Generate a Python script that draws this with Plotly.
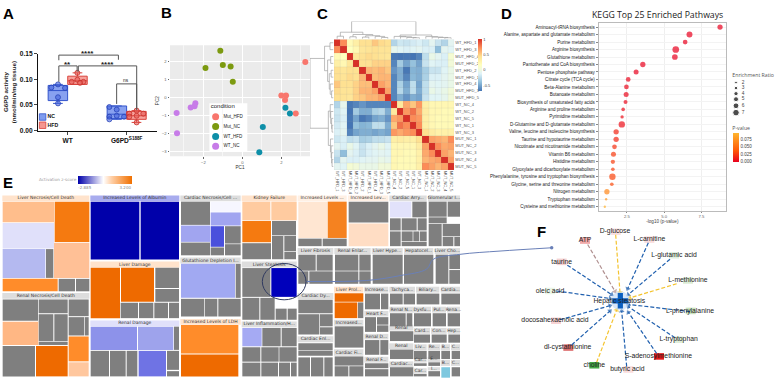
import plotly.graph_objects as go

W, H = 777, 382
def dx(a, b): return [a / W, b / W]
def dy(top, bot): return [1 - bot / H, 1 - top / H]

# ---------- A: G6PD activity
A_x_nc_wt = [0.836, 0.723, 0.955, 0.836, 0.836]
A_y_nc_wt = [0.090, 0.084, 0.083, 0.065, 0.053]
A_x_hfd_wt = [1.164, 1.068, 1.164, 1.266, 1.209]
A_y_hfd_wt = [0.1125, 0.095, 0.099, 0.095, 0.093]
A_x_nc_mut = [1.706, 1.831, 1.706, 1.831, 1.955, 1.706]
A_y_nc_mut = [0.046, 0.041, 0.027, 0.029, 0.027, 0.022]
A_x_hfd_mut = [2.169, 2.045, 2.282, 2.169, 2.169, 2.045]
A_y_hfd_mut = [0.039, 0.033, 0.033, 0.029, 0.016, 0.027]
A_box_pos = [0.834, 1.166, 1.834, 2.166]
A_q1 = [0.0585, 0.090, 0.0235, 0.022]
A_med = [0.078, 0.097, 0.032, 0.029]
A_q3 = [0.088, 0.106, 0.048, 0.0375]
A_low = [0.053, 0.090, 0.022, 0.016]
A_high = [0.090, 0.1125, 0.048, 0.039]
A_brackets = [
    ([0.85, 0.85, 1.86, 1.86], [0.137, 0.147, 0.147, 0.138]),
    ([0.85, 0.85, 1.16, 1.16], [0.095, 0.126, 0.126, 0.115]),
    ([1.18, 1.18, 2.17, 2.17], [0.115, 0.126, 0.126, 0.040]),
    ([1.83, 1.83, 2.17, 2.17], [0.052, 0.091, 0.091, 0.043]),
]
A_sig_x = [1.33, 1.0, 1.68, 1.99]
A_sig_y = [0.150, 0.129, 0.129, 0.097]
A_sig_t = ["****", "**", "****", "ns"]
A_sig_s = [8, 8, 8, 4.8]

# ---------- B: PCA
B_groups = ["Mut_HFD", "Mut_NC", "WT_HFD", "WT_NC"]
B_colors = ["#F8766D", "#7C9A10", "#0E8FA8", "#C77CE8"]
B_pc1 = [[3.23, 2.0, 2.24, 2.19, 2.74],
         [-1.13, -1.89, -1.0, -0.60, -0.49],
         [2.21, 2.44, 1.05, 0.87],
         [-3.37, -2.65, -2.45, -2.41, -3.35]]
B_pc2 = [[1.97, 0.11, 0.11, -0.13, -0.88],
         [2.58, 1.64, 1.80, 1.71, 0.88],
         [-0.56, -0.88, -1.62, -3.01],
         [-0.85, -0.54, -0.47, -0.31, -1.97]]
B_leg_y = [-1.06, -1.6, -2.15, -2.69]

# ---------- C: correlation heatmap
C_labels = ["WT_HFD_1", "WT_HFD_3", "MUT_HFD_4", "MUT_HFD_2", "WT_HFD_2", "MUT_HFD_1",
            "WT_HFD_4", "MUT_HFD_3", "MUT_HFD_5", "WT_NC_4", "WT_NC_2", "WT_NC_5",
            "WT_NC_1", "WT_NC_3", "MUT_NC_1", "MUT_NC_2", "MUT_NC_3", "MUT_NC_4", "MUT_NC_5"]
C_upper = [
    [1, .72, .2, .3, .42, .42, .52, .45, .42, -.3, -.2, -.22, -.18, -.15, -.2, -.1, -.22, -.3, -.1],
    [1, .15, .22, .38, .4, .42, .4, .4, -.08, -.12, -.15, -.12, -.1, -.15, -.15, -.42, -.1, -.12],
    [1, .38, .42, .45, .42, .4, .38, -.69, -.7, -.69, -.7, -.64, -.25, -.05, -.1, -.15, .05],
    [1, .42, .42, .48, .48, .48, -.64, -.35, -.52, -.4, -.52, -.22, -.12, -.15, -.15, .02],
    [1, .58, .55, .58, .52, -.58, -.48, -.69, -.46, -.48, -.34, -.22, -.22, -.12, -.05],
    [1, .55, .58, .58, -.64, -.48, -.64, -.44, -.48, -.32, -.15, -.15, -.1, -.05],
    [1, .65, .58, -.64, -.32, -.52, -.25, -.52, -.25, -.1, -.12, -.1, -.05],
    [1, .65, -.64, -.28, -.48, -.25, -.48, -.25, -.05, -.1, -.05, .02],
    [1, -.64, -.48, -.58, -.48, -.52, -.22, -.12, -.12, -.08, .02],
    [1, .35, .62, .52, .68, .3, .22, .22, .22, .22],
    [1, .68, .8, .62, .32, .22, .22, .2, .2],
    [1, .72, .68, .3, .22, .2, .2, .2],
    [1, .72, .3, .22, .2, .2, .2],
    [1, .42, .32, .28, .28, .28],
    [1, .65, .62, .58, .72],
    [1, .72, .62, .65],
    [1, .65, .58],
    [1, .65],
    [1],
]
C_tree = (1.0,
          (.38, (.15, 0, 1), (.25, (.12, 2, 3), (.18, (.1, 4, 5), (.14, 6, (.08, 7, 8))))),
          (.22, (.14, 9, (.12, 10, (.08, 11, (.06, 12, 13)))),
           (.13, 14, (.1, 15, (.08, 16, (.06, 17, 18))))))
C_scale = ["#4575B4", "#91BFDB", "#E0F3F8", "#FFFFBF", "#FEE090", "#FC8D59", "#D73027"]

# ---------- D: KEGG
D_path = ["Aminoacyl-tRNA biosynthesis", "Alanine, aspartate and glutamate metabolism", "Purine metabolism",
          "Arginine biosynthesis", "Glutathione metabolism", "Pantothenate and CoA biosynthesis",
          "Pentose phosphate pathway", "Citrate cycle (TCA cycle)", "Beta-Alanine metabolism",
          "Butanoate metabolism", "Biosynthesis of unsaturated fatty acids", "Arginine and proline metabolism",
          "Pyrimidine metabolism", "D-Glutamine and D-glutamate metabolism",
          "Valine, leucine and isoleucine biosynthesis", "Taurine and hypotaurine metabolism",
          "Nicotinate and nicotinamide metabolism", "Vitamin B6 metabolism", "Histidine metabolism",
          "Glyoxylate and dicarboxylate metabolism", "Phenylalanine, tyrosine and tryptophan biosynthesis",
          "Glycine, serine and threonine metabolism", "Nitrogen metabolism", "Tryptophan metabolism",
          "Cysteine and methionine metabolism"]
D_logp = [8.75, 6.70, 6.41, 5.78, 5.72, 3.57, 3.12, 2.59, 2.47, 2.45, 2.41, 2.25, 2.18, 2.16,
          1.78, 1.78, 1.67, 1.60, 1.56, 1.56, 1.53, 1.49, 1.16, 1.11, 1.02]
D_ratio = [5.4, 6.3, 4.6, 7.2, 5.9, 5.4, 5.0, 4.6, 4.6, 5.0, 3.7, 3.2, 2.8, 6.8, 5.4, 5.4, 4.6, 5.0, 4.1, 3.2,
           6.8, 3.2, 5.4, 1.5, 1.5]
D_leg_ratio = [2, 3, 4, 5, 6, 7]
D_leg_y = [240, 257, 274, 291, 311, 332]
def ratio_px(r): return 1.2 + 0.76 * r

# ---------- E: treemap (values read in 3x picture units)
G = "#7F7F7F"; DB = "#0000AA"; OR = "#EE6A00"; O2 = "#FF8C2A"; LO = "#FFC096"
E_cells_left = [
    (8,94,162,157,"#FFBE8C"),(164,94,268,217,"#F57A10"),(8,159,162,237,"#E0E0FA"),(8,239,136,327,"#B4B9F0"),
    (138,239,160,327,G),(162,220,268,327,LO),(8,330,173,368,O2),(176,330,225,368,G),(228,330,268,368,G),
    (8,393,114,458,G),(116,393,203,435,G),(116,438,160,520,G),(163,438,203,520,G),(116,522,203,532,G),
    (206,393,266,444,G),(206,447,252,503,G),(254,447,266,503,G),(8,461,115,532,"#FFB784"),(8,535,105,628,G),
    (108,535,203,628,OR),(206,506,266,582,O2),(206,585,266,628,"#FFC79E"),
    (272,94,418,271,DB),(422,94,537,271,DB),
    (272,296,360,450,OR),(363,296,462,400,OR),(466,296,537,358,G),(466,361,537,400,G),
    (362,403,414,450,G),(417,403,460,450,G),(463,403,504,450,G),(507,403,537,450,G),
    (272,476,411,547,"#8D92EA"),(414,476,520,547,"#9EA3EC"),(522,476,537,547,G),
    (272,550,327,628,G),(330,550,377,628,G),(380,550,412,628,G),(416,550,498,628,"#6F73E4"),
    (501,550,537,608,G),(501,612,537,628,G),
]
E_cells_mid = [
    (-57,94,30,165,G),(32,94,122,125,"#F6F6FF"),(32,127,122,167,"#A1A5F0"),(-57,167,30,217,"#A1A5F0"),
    (32,169,72,232,"#4A50DC"),(75,169,122,222,G),(-57,219,30,258,G),(32,234,72,258,G),(75,224,122,258,G),
    (-57,284,105,388,"#A1A9F2"),(107,284,122,388,G),(-57,391,12,445,G),(14,391,52,445,G),(55,391,122,445,G),
    (-57,471,115,558,O2),(-57,561,115,628,OR),
    (127,94,211,151,"#FFCBA0"),(214,94,290,151,"#FFCBA0"),(127,153,213,218,"#F57A10"),(216,153,288,197,G),
    (216,199,250,270,G),(253,199,288,245,G),(253,247,288,270,G),(127,221,213,270,G),
    (127,297,211,385,G),(214,297,290,385,"#0000BB"),(127,388,178,455,G),(181,388,224,455,G),
    (226,395,290,419,"#FFFFFF"),(227,421,260,455,G),(263,421,290,455,G),
    (127,480,185,536,"#A5AAF3"),(187,480,242,536,G),(245,480,290,536,G),(127,539,181,583,G),(184,539,236,583,G),
    (238,539,290,583,G),(127,586,181,628,G),(184,586,234,628,G),(237,586,270,628,G),(273,586,290,628,G),
    (295,94,381,205,"#FFE6D2"),(383,94,440,205,"#F58220"),(295,207,365,230,G),(368,207,440,230,G),
    (446,94,565,158,G),(446,161,565,230,"#FFDDC4"),
    (570,94,634,142,"#E2E2FB"),(637,94,680,142,G),(570,145,602,182,G),(605,145,650,182,G),(653,145,680,182,G),
    (570,185,602,230,G),(605,185,638,215,G),(640,185,658,215,G),(660,185,680,215,G),(605,217,680,230,G),
    (686,94,740,140,G),(743,94,780,140,G),(686,142,740,160,G),(686,162,725,230,G),(728,162,780,200,G),
    (728,202,760,230,G),(763,202,780,230,G),
    (295,256,347,305,G),(350,256,398,305,G),(295,307,325,345,G),(328,307,398,345,G),
    (405,256,475,305,G),(478,256,512,305,G),(405,307,475,345,G),(478,307,512,345,G),
    (518,256,608,345,G),(612,256,700,345,G),(707,256,745,345,G),(748,256,780,300,G),(748,303,780,345,G),
    (295,394,398,435,G),(295,438,358,500,G),(360,438,398,475,G),(360,478,398,500,G),
    (295,527,398,548,G),(295,550,398,565,G),(295,570,330,628,G),(333,570,370,628,G),(373,570,398,628,G),
    (404,374,490,400,OR),(404,402,472,450,OR),(474,402,490,450,G),(404,475,490,540,G),
    (404,567,490,595,G),(404,597,445,628,G),(448,597,490,628,G),
    (495,375,540,423,G),(543,375,565,423,G),(495,447,528,492,G),(531,447,565,470,G),(531,472,565,492,G),
    (495,517,538,562,G),(541,517,565,562,G),(495,588,565,603,G),(495,606,565,628,G),
    (570,375,608,408,G),(611,375,645,408,G),(650,375,718,408,G),(724,375,780,408,G),
    (570,435,617,475,G),(620,435,637,475,G),(642,435,693,475,G),(698,435,738,475,G),(743,435,780,475,G),
    (570,490,640,520,G),(570,546,640,575,G),(570,600,640,628,G),
    (642,500,690,525,G),(695,500,740,525,G),(745,500,780,525,G),
    (642,550,680,575,G),(685,550,720,575,G),(724,550,750,575,G),(755,550,780,575,G),
    (642,588,680,596,G),(642,622,680,628,G),(685,585,720,596,G),(685,612,720,628,G),
    (724,600,750,632,"#7EC8DF"),(755,600,780,628,G),
]
HG = "#DDDDDD"
E_heads_left = [
    (7,75,268,93,"#FFE3CC","Liver Necrosis/Cell Death"),(7,373,268,391,HG,"Renal Necrosis/Cell Death"),
    (271,75,538,93,"#A8ACEE","Increased Levels of Albumin"),(271,277,538,295,"#FFE3CC","Liver Damage"),
    (271,457,538,475,"#E0E0FA","Renal Damage"),
]
E_heads_mid = [
    (-59,75,122,93,HG,"Cardiac Necrosis/Cell ..."),(-59,265,122,283,HG,"Glutathione Depletion I..."),
    (-59,453,122,470,"#FFE3CC","Increased Levels of LDH"),(125,75,290,93,"#FFE3CC","Kidney Failure"),
    (125,277,290,295,HG,"Liver Steatosis"),(125,460,290,478,HG,"Liver Inflammation/H..."),
    (293,75,440,93,"#FFF0E4","Increased Levels ..."),(444,75,565,93,"#FFF0E4","Increased Lev..."),
    (568,75,680,93,HG,"Cardiac Arry..."),(684,75,780,93,HG,"Glomerular I..."),
    (293,236,400,254,HG,"Liver Fibrosis"),(403,236,512,254,HG,"Renal Enlar..."),(515,236,608,254,HG,"Liver Hype..."),
    (612,236,700,254,HG,"Hepatocel..."),(704,236,780,254,HG,"Liver Cho..."),
    (293,373,400,392,HG,"Cardiac Dy..."),(293,505,400,524,HG,"Cardiac Enl..."),
    (402,354,490,372,"#FFE3CC","Liver Prol..."),(402,455,490,473,HG,"Increased..."),(402,545,490,565,HG,"Cardiac Fi..."),
    (493,354,565,372,HG,"Increase..."),(493,428,565,445,HG,"Heart F..."),(493,498,565,515,HG,"Renal D..."),
    (493,568,565,586,HG,"Renal F..."),(568,354,645,372,HG,"Tachyca..."),(648,354,718,372,HG,"Biliary..."),
    (722,354,780,372,HG,"Cardia..."),(568,415,640,433,HG,"Renal N..."),(640,415,693,433,HG,"Dysfu..."),
    (696,415,738,433,HG,"Pul..."),(741,415,780,433,HG,"Rena..."),(568,470,640,488,HG,"Renal"),
    (568,527,640,545,HG,"Renal"),(568,582,640,600,HG,"Cardiac..."),(642,480,690,498,HG,"Card..."),
    (693,480,740,498,HG,"Con..."),(743,480,780,498,HG,"Hep..."),(642,530,680,548,HG,"Liv..."),
    (683,530,720,548,HG,"Re..."),(722,530,750,548,HG,"B..."),(753,530,780,548,HG,"C..."),
    (642,570,680,586,HG,"Car..."),(642,603,680,620,HG,"Car..."),(683,568,720,584,HG,"E..."),
    (683,600,720,610,HG,"I..."),(722,578,750,596,HG,"B..."),(753,578,780,596,HG,"C..."),
]
E_link_x = [920, 1100, 1200, 1280, 1300, 1380, 1500, 1655]
E_link_y = [338, 335, 320, 300, 270, 255, 245, 235]

# ---------- F: network (3x picture units of the lower-right region)
F_nodes = ["D-glucose", "ATP", "L-carnitine", "L-glutamic acid", "taurine", "L-methionine", "oleic acid",
           "L-phenylalanine", "docosahexaenoic acid", "L-tryptophan", "dl-cystathionine",
           "S-adenosylmethionine", "choline", "butyric acid"]
F_tx = [465, 375, 568, 642, 305, 684, 270, 690, 285, 656, 323, 595, 403, 502]
F_ty = [66, 93, 90, 138, 158, 215, 247, 308, 338, 396, 420, 447, 474, 487]
F_hx = [467, 375, 568, 642, 305, 684, 270, 692, 288, 656, 325, 597, 403, 505]
F_hue = ["#F8DDDD", "#F0A0A0", "#F8D8D8", "#DDEEDD", "#F4CCCC", "#D8EBD0", "#EAF5E5",
         "#C5E0B8", "#F6CFCF", "#DCEBD5", "#D96060", "#E00000", "#30A030", "#F8D8D8"]
F_start_x = [467, 383, 565, 630, 322, 650, 290, 690, 300, 645, 335, 590, 410, 500]
F_start_y = [75, 105, 100, 150, 168, 225, 247, 310, 335, 390, 412, 438, 465, 478]
F_end_x = [480, 465, 503, 505, 455, 510, 450, 505, 450, 505, 450, 505, 470, 485]
F_end_y = [252, 248, 240, 258, 258, 268, 270, 288, 292, 295, 308, 312, 305, 308]
F_edge_col = ["#F4C430", "#B09090", "#1F5FAE", "#1F5FAE", "#1F5FAE", "#F4C430", "#1F5FAE", "#1F5FAE",
              "#1F5FAE", "#1F5FAE", "#1F5FAE", "#1F5FAE", "#F4C430", "#1F5FAE"]

SANS = "Liberation Sans"
fig = go.Figure()

# ---- A traces
A_fill = ["rgba(96,130,235,0.75)", "rgba(244,130,122,0.75)", "rgba(96,130,235,0.75)", "rgba(244,130,122,0.75)"]
A_line = ["#3355CC", "#D9433B", "#3355CC", "#D9433B"]
for i in range(4):
    fig.add_trace(go.Box(x=[A_box_pos[i]], q1=[A_q1[i]], median=[A_med[i]], q3=[A_q3[i]],
                         lowerfence=[A_low[i]], upperfence=[A_high[i]], width=0.33, fillcolor=A_fill[i],
                         line=dict(color=A_line[i], width=1), boxpoints=False, xaxis="x", yaxis="y",
                         hoverinfo="skip"))
for xs, ys, c, f in [(A_x_nc_wt, A_y_nc_wt, "#2B45B8", "rgba(70,100,220,0.6)"),
                     (A_x_hfd_wt, A_y_hfd_wt, "#C8322C", "rgba(230,90,85,0.6)"),
                     (A_x_nc_mut, A_y_nc_mut, "#2B45B8", "rgba(70,100,220,0.6)"),
                     (A_x_hfd_mut, A_y_hfd_mut, "#C8322C", "rgba(230,90,85,0.6)")]:
    fig.add_trace(go.Scatter(x=xs, y=ys, mode="markers", xaxis="x", yaxis="y", hoverinfo="skip",
                             marker=dict(size=5, color=f, line=dict(color=c, width=0.8))))
for bx_, by_ in A_brackets:
    fig.add_trace(go.Scatter(x=bx_, y=by_, mode="lines", xaxis="x", yaxis="y", hoverinfo="skip",
                             line=dict(color="#555555", width=1)))
fig.add_trace(go.Scatter(x=[0.575, 0.575], y=[0.0265, 0.0105], mode="markers", xaxis="x", yaxis="y",
                         hoverinfo="skip",
                         marker=dict(symbol="square", size=6.5, color=["#7F9CEF", "#F4968F"],
                                     line=dict(color=["#3355CC", "#D9433B"], width=0.8))))
fig.add_trace(go.Scatter(x=[0.66, 0.66], y=[0.0265, 0.0105], mode="text", text=["<b>NC</b>", "<b>HFD</b>"],
                         textposition="middle right", xaxis="x", yaxis="y", hoverinfo="skip",
                         textfont=dict(family=SANS, size=5.2, color="#111111")))

# ---- B traces
for xs, ys, c in zip(B_pc1, B_pc2, B_colors):
    fig.add_trace(go.Scatter(x=xs, y=ys, mode="markers", xaxis="x2", yaxis="y2", hoverinfo="skip",
                             marker=dict(size=6, color=c)))
fig.add_trace(go.Scatter(x=[-1.37] * 4, y=B_leg_y, mode="markers", xaxis="x2", yaxis="y2", hoverinfo="skip",
                         marker=dict(size=7, color=B_colors)))
fig.add_trace(go.Scatter(x=[-0.97] * 4, y=B_leg_y, mode="text", text=B_groups, textposition="middle right",
                         xaxis="x2", yaxis="y2", hoverinfo="skip",
                         textfont=dict(family=SANS, size=4.5, color="#222222")))
fig.add_trace(go.Scatter(x=[-1.62], y=[-0.49], mode="text", text=["condition"], textposition="middle right",
                         xaxis="x2", yaxis="y2", hoverinfo="skip",
                         textfont=dict(family=SANS, size=6, color="#222222")))

# ---- C traces
n = len(C_labels)
C_z = [[0.0] * n for _ in range(n)]
for i, row in enumerate(C_upper):
    for k, v in enumerate(row):
        C_z[i][i + k] = v
        C_z[i + k][i] = v
fig.add_trace(go.Heatmap(z=C_z, x=list(range(n)), y=list(range(n)), zmin=-0.7, zmax=1,
                         colorscale=[[k / 6, c] for k, c in enumerate(C_scale)],
                         xaxis="x3", yaxis="y3", hoverinfo="skip",
                         colorbar=dict(x=477.7 / W, xanchor="left", y=1 - 36 / H, yanchor="top",
                                       lenmode="pixels", len=52, thicknessmode="pixels", thickness=4,
                                       xpad=0, ypad=0, outlinewidth=0, tickvals=[1, 0.5, 0, -0.5],
                                       ticktext=["1", "0.5", "0", "-0.5"], ticks="", ticklabelposition="outside",
                                       tickfont=dict(family=SANS, size=4, color="#444444"))))
grid_x, grid_y = [], []
for k in range(n + 1):
    grid_x += [k - 0.5, k - 0.5, None, -0.5, n - 0.5, None]
    grid_y += [-0.5, n - 0.5, None, k - 0.5, k - 0.5, None]
fig.add_trace(go.Scatter(x=grid_x, y=grid_y, mode="lines", xaxis="x3", yaxis="y3", hoverinfo="skip",
                         line=dict(color="rgba(150,150,150,0.3)", width=0.4)))
segs = []
def walk(node):
    if isinstance(node, int):
        return node, 0.0
    h, l, r = node
    pl, hl = walk(l)
    pr, hr = walk(r)
    segs.append(([pl, pl, pr, pr], [hl, h, h, hr]))
    return (pl + pr) / 2, h
walk(C_tree)
top_x, top_y = [], []
for a, b in segs:
    top_x += a + [None]
    top_y += b + [None]
fig.add_trace(go.Scatter(x=top_x, y=top_y, mode="lines", xaxis="x4", yaxis="y4", hoverinfo="skip",
                         line=dict(color="#A0A0A0", width=0.7)))
fig.add_trace(go.Scatter(x=top_y, y=top_x, mode="lines", xaxis="x5", yaxis="y5", hoverinfo="skip",
                         line=dict(color="#A0A0A0", width=0.7)))

# ---- D traces
D_p = [10 ** (-v) for v in D_logp]
D_scale = [[0, "#E8001E"], [0.4, "#FF5A08"], [1, "#FFB52E"]]
fig.add_trace(go.Scatter(x=D_logp, y=D_path, mode="markers", xaxis="x6", yaxis="y6", hoverinfo="skip",
                         marker=dict(size=[ratio_px(r) for r in D_ratio], color=D_p, cmin=0, cmax=0.098,
                                     colorscale=D_scale, showscale=True, line=dict(width=0),
                                     colorbar=dict(x=732.7 / W, xanchor="left", y=1 - 131 / H, yanchor="top",
                                                   lenmode="pixels", len=29, thicknessmode="pixels", thickness=6,
                                                   xpad=0, ypad=0, outlinewidth=0, ticks="",
                                                   tickvals=[0, 0.025, 0.05, 0.075], tickformat=".3f",
                                                   tickfont=dict(family=SANS, size=4.5, color="#444444")))))

# ---- overlay: everything in 3x picture units
FX, FY = 1380, 120
def ux_left(v): return v
def ux_mid(v): return v + 600
bx, bw, by, bh, bc = [], [], [], [], []
for cells, fx in [(E_heads_left, ux_left), (E_heads_mid, ux_mid)]:
    for c in cells:
        bx.append((fx(c[0]) + fx(c[2])) / 2); bw.append(c[2] - c[0]); by.append(c[1]); bh.append(c[3] - c[1]); bc.append(c[4])
for cells, fx in [(E_cells_left, ux_left), (E_cells_mid, ux_mid)]:
    for c in cells:
        bx.append((fx(c[0]) + fx(c[2])) / 2); bw.append(c[2] - c[0]); by.append(c[1]); bh.append(c[3] - c[1]); bc.append(c[4])
fig.add_trace(go.Bar(x=bx, y=bh, base=by, width=bw, xaxis="x7", yaxis="y7", hoverinfo="skip",
                     marker=dict(color=bc, line=dict(width=0))))
# F node highlights
fig.add_trace(go.Bar(x=[v + FX for v in F_hx], y=[20] * len(F_hx), base=[v + FY - 10 for v in F_ty], width=[30] * len(F_hx),
                     xaxis="x7", yaxis="y7", hoverinfo="skip", marker=dict(color=F_hue, line=dict(width=0), opacity=0.9)))
hx, hy, ht = [], [], []
for cells, fx in [(E_heads_left, ux_left), (E_heads_mid, ux_mid)]:
    for c in cells:
        hx.append((fx(c[0]) + fx(c[2])) / 2); hy.append((c[1] + c[3]) / 2); ht.append(c[5])
fig.add_trace(go.Scatter(x=hx, y=hy, mode="text", text=ht, xaxis="x7", yaxis="y7", hoverinfo="skip",
                         textfont=dict(family="DejaVu Sans", size=4.5, color="#333333")))
# E colour legend
fig.add_trace(go.Scatter(x=[-500], y=[0], mode="markers", xaxis="x7", yaxis="y7", hoverinfo="skip",
                         marker=dict(color=[0], cmin=-2.885, cmax=3.2, showscale=True,
                                     colorscale=[[0, "#0000AA"], [0.47, "#FFFFFF"], [0.62, "#FFD0A8"], [1, "#F07000"]],
                                     colorbar=dict(orientation="h", x=78 / W, xanchor="left", y=1 - 175 / H,
                                                   yanchor="top", lenmode="pixels", len=54, thicknessmode="pixels",
                                                   thickness=8, xpad=0, ypad=0, outlinewidth=0, ticks="",
                                                   tickvals=[-2.125, 2.44], ticktext=["-2.885", "3.200"],
                                                   tickfont=dict(family="DejaVu Sans", size=4, color="#888888")))))
fig.add_trace(go.Scatter(x=[117], y=[29], mode="text", text=["Activation z-score"], textposition="middle right",
                         xaxis="x7", yaxis="y7", hoverinfo="skip",
                         textfont=dict(family="DejaVu Sans", size=4.2, color="#999999")))
# link from E to F
fig.add_trace(go.Scatter(x=E_link_x, y=E_link_y, mode="lines", xaxis="x7", yaxis="y7",
                         hoverinfo="skip", line=dict(color="#6A80B8", width=1, shape="spline")))
fig.add_trace(go.Scatter(x=E_link_x[-1:], y=E_link_y[-1:], mode="markers", xaxis="x7", yaxis="y7",
                         hoverinfo="skip", marker=dict(size=3.5, color="#6A80B8")))
# F
for a, b, c, d, col in zip(F_start_x, F_start_y, F_end_x, F_end_y, F_edge_col):
    fig.add_trace(go.Scatter(x=[a + FX, c + FX], y=[b + FY, d + FY], mode="lines+markers", xaxis="x7", yaxis="y7",
                             hoverinfo="skip", line=dict(color=col, width=1.2, dash="4px,2px"),
                             marker=dict(symbol=["circle", "triangle-up"], size=[0.1, 5], color=col,
                                         angleref="previous", line=dict(width=0))))
fig.add_trace(go.Scatter(x=[481 + FX], y=[277 + FY], mode="markers", xaxis="x7", yaxis="y7", hoverinfo="skip",
                         marker=dict(symbol="circle", size=19, color="rgba(190,215,245,0.6)", line=dict(width=0))))
fig.add_trace(go.Scatter(x=[481 + FX], y=[277 + FY], mode="markers", xaxis="x7", yaxis="y7", hoverinfo="skip",
                         marker=dict(symbol="cross", size=13, color="#0B5FC0", line=dict(width=0))))
fig.add_trace(go.Scatter(x=[v + FX for v in F_tx] + [478 + FX], y=[v + FY for v in F_ty] + [279 + FY], mode="text",
                         text=F_nodes + ["Hepatic steatosis"], xaxis="x7", yaxis="y7", hoverinfo="skip",
                         textfont=dict(family=SANS, size=6.8, color="#222222")))
# D legends
DX, DY = 1500, -510
fig.add_trace(go.Scatter(x=[708 + DX] * 6, y=[v + DY for v in D_leg_y], mode="markers", xaxis="x7", yaxis="y7",
                         hoverinfo="skip", marker=dict(size=[ratio_px(r) for r in D_leg_ratio], color="#000000")))
fig.add_trace(go.Scatter(x=[725 + DX] * 6, y=[v + DY for v in D_leg_y], mode="text", text=[str(r) for r in D_leg_ratio],
                         textposition="middle right", xaxis="x7", yaxis="y7", hoverinfo="skip",
                         textfont=dict(family=SANS, size=4.8, color="#444444")))
fig.add_trace(go.Scatter(x=[697 + DX, 697 + DX], y=[218 + DY, 380 + DY], mode="text",
                         text=["Enrichment Ratio", "P-value"], textposition="middle right", xaxis="x7", yaxis="y7",
                         hoverinfo="skip", textfont=dict(family="Open Sans", size=5.2, color="#555555")))

noax = dict(visible=False, fixedrange=True)
shapes = [
    dict(type="rect", xref="x2 domain", yref="y2 domain", x0=0, x1=1, y0=0, y1=1, fillcolor="#EBEBEB",
         line_width=0, layer="below"),
    dict(type="rect", xref="x2", yref="y2", x0=-1.69, x1=0.256, y0=-2.96, y1=-0.31, fillcolor="#FFFFFF",
         line_width=0, layer="below"),
    dict(type="circle", xref="x7", yref="y7", x0=787, x1=918, y0=283, y1=394, line=dict(color="#303A60", width=1)),
]
letters = [("A", 8.7, 10), ("B", 166.7, 9), ("C", 322, 10), ("D", 506, 10), ("E", 8, 181.7), ("F", 541.7, 231.7)]
anns = [dict(text="<b>%s</b>" % t, x=a / W, y=1 - b / H, xref="paper", yref="paper", showarrow=False,
             xanchor="center", yanchor="middle", font=dict(family=SANS, size=15, color="#000000"))
        for t, a, b in letters]
anns.append(dict(text="KEGG Top 25 Enriched Pathways", x=657.5 / W, y=1 - 11 / H, xref="paper", yref="paper",
                 showarrow=False, xanchor="center", yanchor="middle",
                 font=dict(family="Open Sans", size=8.7, color="#222222")))
for tx, ty, tt, ts in zip(A_sig_x, A_sig_y, A_sig_t, A_sig_s):
    anns.append(dict(text="<b>%s</b>" % tt if tt != "ns" else tt, x=tx, y=ty, xref="x", yref="y", showarrow=False,
                     xanchor="center", yanchor="middle", font=dict(family=SANS, size=ts, color="#222222")))

fig.update_layout(
    width=W, height=H, margin=dict(l=0, r=0, t=0, b=0), paper_bgcolor="#FFFFFF", plot_bgcolor="rgba(0,0,0,0)",
    showlegend=False, barmode="overlay", shapes=shapes, annotations=anns, boxmode="overlay",
    xaxis=dict(domain=dx(38, 157), range=[0.497, 2.514], tickvals=[1, 2], ticktext=["<b>WT</b>", "<b>G6PD<sup>S188F</sup></b>"],
               showgrid=False, zeroline=False, showline=True, linecolor="#111111", linewidth=1.2, ticks="outside",
               ticklen=3, tickwidth=1, tickfont=dict(family=SANS, size=6.6, color="#111111"), fixedrange=True),
    yaxis=dict(domain=dy(50.5, 129), range=[0, 0.15], tickvals=[0, 0.05, 0.10, 0.15],
               ticktext=["<b>0.00</b>", "<b>0.05</b>", "<b>0.10</b>", "<b>0.15</b>"],
               showgrid=False, zeroline=False, showline=True, linecolor="#111111", linewidth=1.2, ticks="outside",
               ticklen=3, tickwidth=1, tickfont=dict(family=SANS, size=6.6, color="#111111"), fixedrange=True,
               title=dict(text="<b>G6PD activity<br>(nmol/min/mg tissue)</b>", standoff=2,
                          font=dict(family=SANS, size=6.2, color="#222222"))),
    xaxis2=dict(domain=dx(170, 310), range=[-3.71, 3.47], tickvals=[-2, 0, 2], showgrid=True, gridcolor="#FFFFFF",
                gridwidth=0.7, zeroline=False, ticks="outside", ticklen=1.5, tickcolor="#666666", tickwidth=0.5,
                minor=dict(dtick=1, showgrid=True, gridcolor="#F6F6F6", gridwidth=0.4),
                tickfont=dict(family=SANS, size=4.2, color="#666666"), anchor="y2", fixedrange=True,
                title=dict(text="PC1", standoff=2, font=dict(family=SANS, size=4.6, color="#333333"))),
    yaxis2=dict(domain=dy(42, 155), range=[-3.23, 2.89], tickvals=[2, 1, 0, -1, -2, -3], showgrid=True,
                gridcolor="#FFFFFF", gridwidth=0.7, zeroline=False, ticks="outside", ticklen=1.5, tickcolor="#666666",
                tickwidth=0.5, tickfont=dict(family=SANS, size=4.2, color="#666666"), anchor="x2", fixedrange=True,
                title=dict(text="PC2", standoff=2, font=dict(family=SANS, size=4.6, color="#333333"))),
    xaxis3=dict(domain=dx(334, 454.3), range=[-0.5, 18.5], tickmode="array", tickvals=list(range(n)), ticktext=C_labels,
                tickangle=90, ticks="", showgrid=False, zeroline=False, anchor="y3", fixedrange=True,
                tickfont=dict(family=SANS, size=3.9, color="#555555")),
    yaxis3=dict(domain=dy(36, 169), range=[18.5, -0.5], tickmode="array", tickvals=list(range(n)), ticktext=C_labels,
                side="right", ticks="", showgrid=False, zeroline=False, anchor="x3", fixedrange=True,
                tickfont=dict(family=SANS, size=4, color="#555555")),
    xaxis4=dict(domain=dx(334, 454.3), range=[-0.5, 18.5], anchor="y4", **noax),
    yaxis4=dict(domain=dy(17.7, 35.5), range=[0, 1], anchor="x4", **noax),
    xaxis5=dict(domain=dx(310, 333.5), range=[1, 0], anchor="y5", **noax),
    yaxis5=dict(domain=dy(36, 169), range=[18.5, -0.5], anchor="x5", **noax),
    xaxis6=dict(domain=dx(598.7, 726), range=[0.61, 9.15], tickvals=[2.5, 5, 7.5], tickformat=".1f", showgrid=True,
                gridcolor="#EFEFEF", gridwidth=0.5, zeroline=False, showline=True, mirror=True, linecolor="#BBBBBB",
                linewidth=0.8, ticks="outside", ticklen=1.5, tickcolor="#888888", tickwidth=0.5, anchor="y6",
                tickfont=dict(family=SANS, size=4.2, color="#666666"), fixedrange=True,
                title=dict(text="-log10 (p-value)", standoff=1, font=dict(family=SANS, size=4.6, color="#444444"))),
    yaxis6=dict(domain=dy(19.3, 210.7), range=[24.55, -0.55], type="category", categoryorder="array", categoryarray=D_path,
                showgrid=True, gridcolor="#F3F3F3", gridwidth=0.5, zeroline=False, showline=True, mirror=True,
                linecolor="#BBBBBB", linewidth=0.8, ticks="outside", ticklen=2, tickcolor="#888888", tickwidth=0.5,
                anchor="x6", tickfont=dict(family=SANS, size=4.55, color="#222222"), fixedrange=True),
    xaxis7=dict(domain=[0, 1], range=[0, 3 * W], anchor="y7", **noax),
    yaxis7=dict(domain=[0, 1], range=[3 * H - 510, -510], anchor="x7", **noax),
)
fig.write_html("out.html", config=dict(displayModeBar=False), post_script="document.body.style.margin='0';")
